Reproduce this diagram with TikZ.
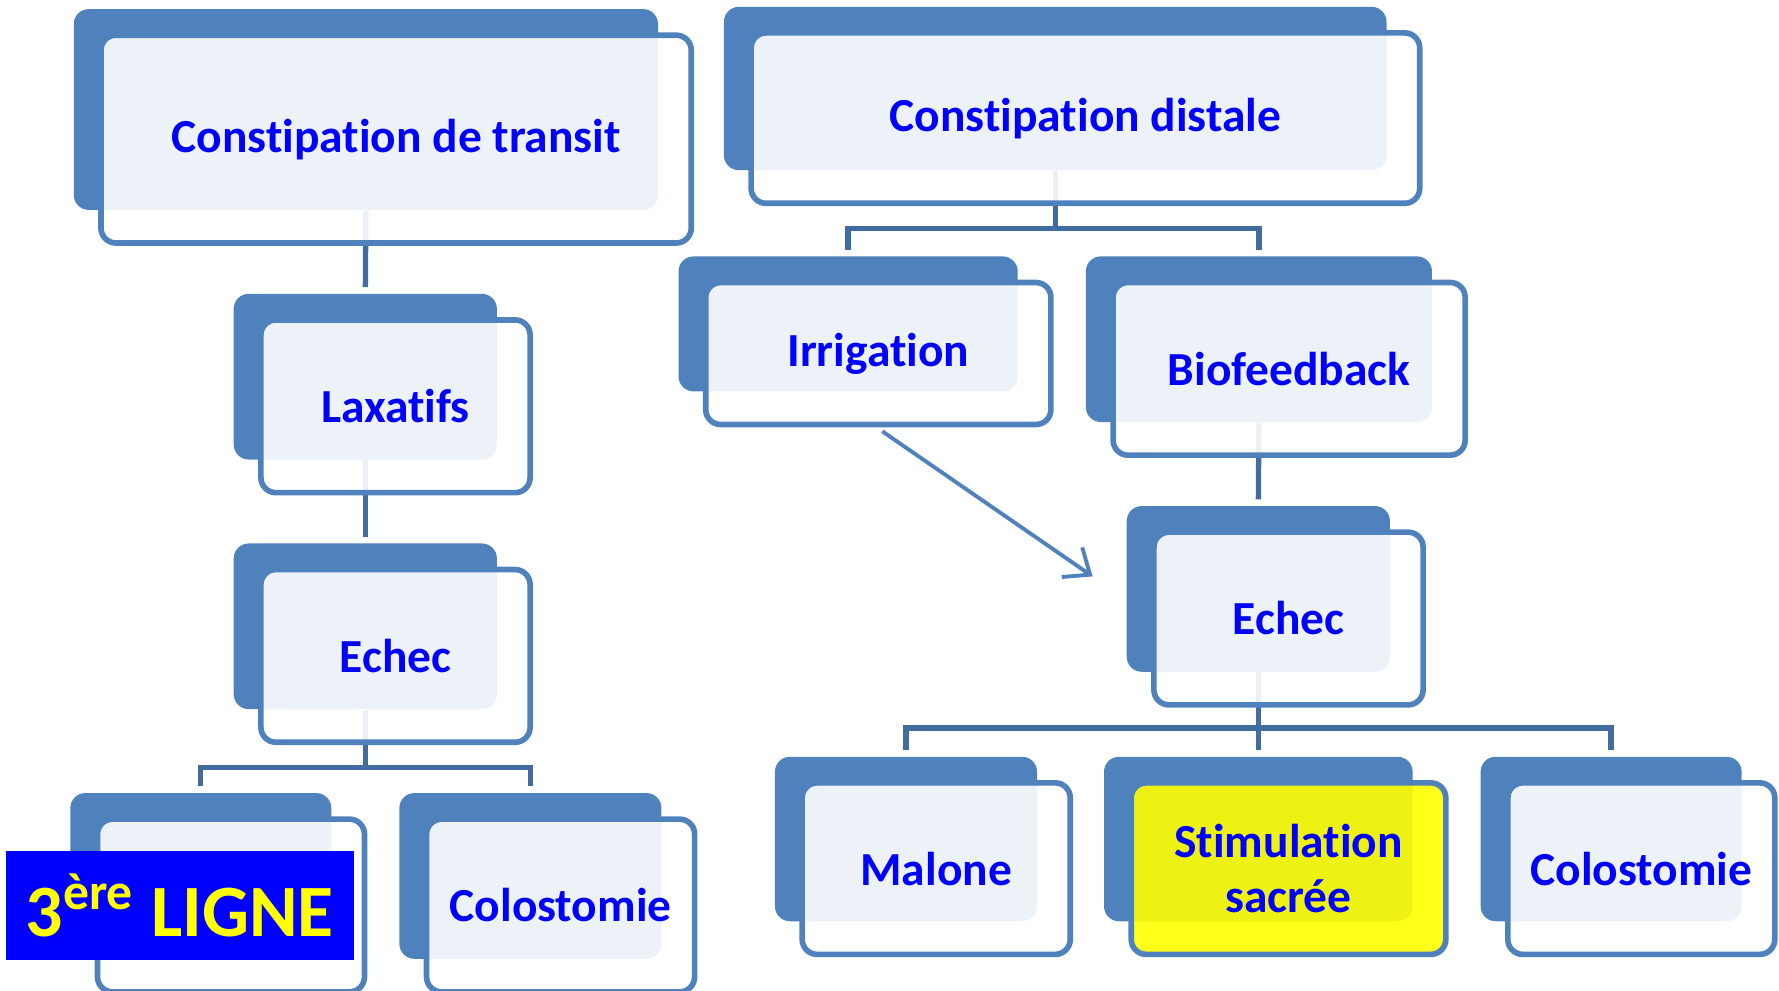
\documentclass[tikz,border=0pt]{standalone}
\usepackage{fontspec}
\setmainfont{Carlito}[Ligatures=NoCommon]
\usepackage{xcolor}
\usepackage{tikz}
\usetikzlibrary{arrows.meta,backgrounds}

\begin{document}
\begin{tikzpicture}[x=1cm,y=1cm,
  backbox/.style={fill=cbox,rounded corners=0.15cm,inner sep=0pt},
  frontbox/.style={draw=cbox,line width=1.6pt,fill=white,fill opacity=0.9,text opacity=1,rounded corners=0.15cm,inner sep=0pt,text=ctext,align=center,font=\bfseries\fontsize{13.5}{15.5}\selectfont},
  link/.style={draw=clink,line width=1.5pt,shorten >=0.06cm}]
\definecolor{cbox}{RGB}{79,129,189}
\definecolor{clink}{RGB}{64,108,160}
\definecolor{ctext}{RGB}{0,0,255}
\definecolor{cligne}{RGB}{0,0,255}
\definecolor{cjaune}{RGB}{255,255,0}
\useasboundingbox (0,0) rectangle (17.79,-9.90);
\node[backbox,minimum width=5.843cm,minimum height=2.008cm] (transitB) at (3.659,-1.095) {};
\node[frontbox,minimum width=5.903cm,minimum height=2.078cm] (transit) at (3.961,-1.391) {Constipation de transit};
\node[backbox,minimum width=2.632cm,minimum height=1.657cm] (laxatifsB) at (3.653,-3.767) {};
\node[frontbox,minimum width=2.692cm,minimum height=1.727cm] (laxatifs) at (3.955,-4.063) {Laxatifs};
\node[backbox,minimum width=2.632cm,minimum height=1.657cm] (echecLB) at (3.653,-6.263) {};
\node[frontbox,minimum width=2.692cm,minimum height=1.727cm] (echecL) at (3.955,-6.559) {Echec};
\node[backbox,minimum width=2.610cm,minimum height=1.657cm] (ligneB) at (2.008,-8.759) {};
\node[frontbox,minimum width=2.670cm,minimum height=1.727cm] (ligneF) at (2.310,-9.055) {};
\node[backbox,minimum width=2.621cm,minimum height=1.657cm] (coloLB) at (5.304,-8.759) {};
\node[frontbox,minimum width=2.681cm,minimum height=1.727cm] (coloL) at (5.606,-9.055) {Colostomie};
\node[backbox,minimum width=6.626cm,minimum height=1.634cm] (distaleB) at (10.552,-0.885) {};
\node[frontbox,minimum width=6.686cm,minimum height=1.704cm] (distale) at (10.854,-1.181) {Constipation distale};
\node[backbox,minimum width=3.392cm,minimum height=1.350cm] (irrigationB) at (8.481,-3.239) {};
\node[frontbox,minimum width=3.452cm,minimum height=1.420cm] (irrigation) at (8.783,-3.535) {Irrigation};
\node[backbox,minimum width=3.461cm,minimum height=1.657cm] (biofeedbackB) at (12.589,-3.392) {};
\node[frontbox,minimum width=3.521cm,minimum height=1.727cm] (biofeedback) at (12.891,-3.688) {Biofeedback};
\node[backbox,minimum width=2.632cm,minimum height=1.657cm] (echecRB) at (12.583,-5.889) {};
\node[frontbox,minimum width=2.692cm,minimum height=1.727cm] (echecR) at (12.885,-6.185) {Echec};
\node[backbox,minimum width=2.621cm,minimum height=1.645cm] (maloneB) at (9.060,-8.390) {};
\node[frontbox,minimum width=2.681cm,minimum height=1.715cm] (malone) at (9.362,-8.686) {Malone};
\node[backbox,minimum width=3.086cm,minimum height=1.645cm] (sacreeB) at (12.583,-8.390) {};
\node[frontbox,fill=cjaune,minimum width=3.146cm,minimum height=1.715cm] (sacree) at (12.885,-8.686) {Stimulation\\sacrée};
\node[backbox,minimum width=2.610cm,minimum height=1.645cm] (coloRB) at (16.111,-8.390) {};
\node[frontbox,minimum width=2.670cm,minimum height=1.715cm] (coloR) at (16.413,-8.686) {Colostomie};
\node[fill=cligne,minimum width=3.483cm,minimum height=1.089cm,inner sep=0pt,text=cjaune,font=\bfseries\fontsize{21}{25}\selectfont] (ligne) at (1.798,-9.054) {3\textsuperscript{ère} LIGNE};
\coordinate (arrowtip) at (10.926,-5.764);
\begin{scope}[on background layer]
\draw[link] (transitB.south) -- (laxatifsB.north);
\draw[link] (laxatifsB.south) -- (echecLB.north);
\draw[link] (echecLB.south) -- ++(0,-0.578) -| (ligneB.north);
\draw[link] (echecLB.south) -- ++(0,-0.578) -| (coloLB.north);
\draw[link] (distaleB.south) -- ++(0,-0.579) -| (irrigationB.north);
\draw[link] (distaleB.south) -- ++(0,-0.579) -| (biofeedbackB.north);
\draw[link] (biofeedbackB.south) -- (echecRB.north);
\draw[link] (echecRB.south) -- ++(0,-0.555) -| (maloneB.north);
\draw[link] (echecRB.south) -- (sacreeB.north);
\draw[link] (echecRB.south) -- ++(0,-0.555) -| (coloRB.north);
\end{scope}
\draw[draw=cbox,line width=1.1pt,-{Straight Barb[length=2.2mm,width=3.6mm]}] ([shift={(0.04,-0.04)}]irrigation.south) -- (arrowtip);
\end{tikzpicture}
\end{document}
